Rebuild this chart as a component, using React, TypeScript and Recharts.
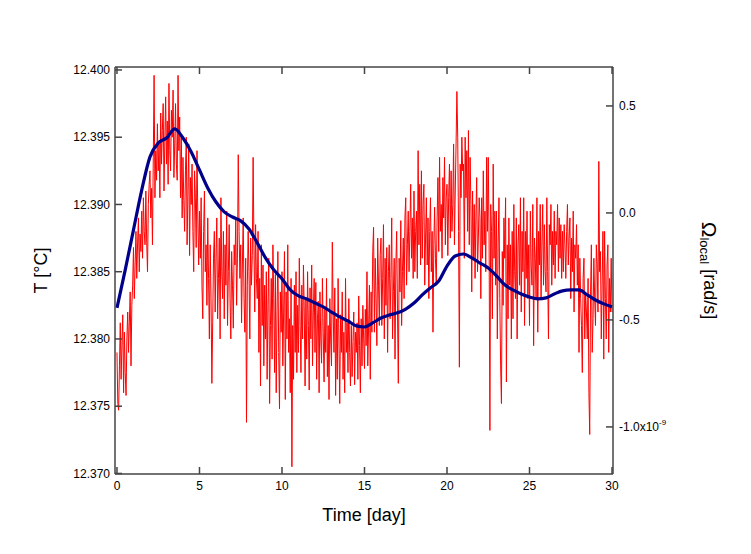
import React from "react";
import { LineChart, Line, XAxis, YAxis } from "recharts";

// red trace: temperature, sampled every 0.05 day from day 0 (one row = half a day)
const RED_STEP = 0.05;
const tempValues = [
  12.3790, 12.3752, 12.3747, 12.3780, 12.3812, 12.3770, 12.3795, 12.3818, 12.3760, 12.3805,
  12.3775, 12.3758, 12.3800, 12.3820, 12.3790, 12.3812, 12.3835, 12.3780, 12.3825, 12.3840,
  12.3868, 12.3830, 12.3855, 12.3880, 12.3845, 12.3872, 12.3890, 12.3850, 12.3878, 12.3865,
  12.3895, 12.3860, 12.3905, 12.3880, 12.3870, 12.3910, 12.3872, 12.3850, 12.3900, 12.3915,
  12.3925, 12.3890, 12.3912, 12.3870, 12.3935, 12.3996, 12.3905, 12.3940, 12.3918, 12.3960,
  12.3925, 12.3945, 12.3905, 12.3968, 12.3930, 12.3955, 12.3975, 12.3910, 12.3948, 12.3980,
  12.3930, 12.3962, 12.3915, 12.3990, 12.3940, 12.3925, 12.3970, 12.3950, 12.3985, 12.3920,
  12.3945, 12.3975, 12.3930, 12.3918, 12.3996, 12.3940, 12.3965, 12.3905, 12.3950, 12.3890,
  12.3935, 12.3903, 12.3880, 12.3925, 12.3950, 12.3870, 12.3910, 12.3945, 12.3862, 12.3920,
  12.3900, 12.3930, 12.3880, 12.3850, 12.3925, 12.3905, 12.3868, 12.3940, 12.3890, 12.3855,
  12.3895, 12.3860, 12.3905, 12.3840, 12.3815, 12.3880, 12.3910, 12.3850, 12.3870, 12.3825,
  12.3890, 12.3845, 12.3800, 12.3870, 12.3830, 12.3767, 12.3812, 12.3860, 12.3880, 12.3820,
  12.3860, 12.3890, 12.3815, 12.3845, 12.3875, 12.3800, 12.3905, 12.3850, 12.3830, 12.3880,
  12.3815, 12.3870, 12.3840, 12.3895, 12.3810, 12.3850, 12.3885, 12.3830, 12.3800, 12.3865,
  12.3840, 12.3808, 12.3870, 12.3855, 12.3890, 12.3825, 12.3860, 12.3937, 12.3880, 12.3845,
  12.3870, 12.3812, 12.3855, 12.3890, 12.3830, 12.3805, 12.3860, 12.3738, 12.3840, 12.3880,
  12.3850, 12.3800, 12.3875, 12.3840, 12.3862, 12.3935, 12.3870, 12.3820, 12.3885, 12.3845,
  12.3830, 12.3880, 12.3790, 12.3845, 12.3765, 12.3870, 12.3810, 12.3855, 12.3780, 12.3840,
  12.3800, 12.3850, 12.3770, 12.3825, 12.3860, 12.3752, 12.3810, 12.3845, 12.3785, 12.3870,
  12.3830, 12.3775, 12.3848, 12.3760, 12.3820, 12.3865, 12.3790, 12.3748, 12.3835, 12.3805,
  12.3850, 12.3780, 12.3820, 12.3865, 12.3755, 12.3835, 12.3800, 12.3870, 12.3790, 12.3815,
  12.3760, 12.3845, 12.3705, 12.3810, 12.3770, 12.3840, 12.3790, 12.3850, 12.3775, 12.3825,
  12.3790, 12.3860, 12.3810, 12.3775, 12.3840, 12.3800, 12.3855, 12.3820, 12.3765, 12.3830,
  12.3785, 12.3850, 12.3810, 12.3762, 12.3838, 12.3800, 12.3855, 12.3780, 12.3820, 12.3845,
  12.3790, 12.3842, 12.3770, 12.3815, 12.3828, 12.3760, 12.3835, 12.3800, 12.3782, 12.3845,
  12.3805, 12.3768, 12.3822, 12.3790, 12.3845, 12.3772, 12.3810, 12.3755, 12.3830, 12.3800,
  12.3780, 12.3872, 12.3820, 12.3790, 12.3838, 12.3758, 12.3815, 12.3770, 12.3845, 12.3800,
  12.3752, 12.3818, 12.3790, 12.3835, 12.3770, 12.3805, 12.3760, 12.3845, 12.3790, 12.3812,
  12.3775, 12.3830, 12.3790, 12.3765, 12.3810, 12.3772, 12.3798, 12.3820, 12.3766, 12.3805,
  12.3790, 12.3812, 12.3770, 12.3832, 12.3795, 12.3760, 12.3815, 12.3780, 12.3825, 12.3800,
  12.3778, 12.3822, 12.3795, 12.3850, 12.3780, 12.3810, 12.3840, 12.3770, 12.3835, 12.3805,
  12.3865, 12.3883, 12.3805, 12.3860, 12.3830, 12.3795, 12.3875, 12.3840, 12.3810, 12.3862,
  12.3875, 12.3810, 12.3845, 12.3885, 12.3800, 12.3860, 12.3825, 12.3868, 12.3790, 12.3850,
  12.3870, 12.3815, 12.3845, 12.3890, 12.3800, 12.3835, 12.3860, 12.3785, 12.3855, 12.3880,
  12.3820, 12.3767, 12.3860, 12.3835, 12.3888, 12.3810, 12.3850, 12.3875, 12.3830, 12.3890,
  12.3905, 12.3840, 12.3870, 12.3895, 12.3850, 12.3880, 12.3915, 12.3860, 12.3890, 12.3845,
  12.3910, 12.3850, 12.3880, 12.3895, 12.3845, 12.3940, 12.3870, 12.3915, 12.3855, 12.3925,
  12.3860, 12.3900, 12.3915, 12.3840, 12.3875, 12.3905, 12.3855, 12.3890, 12.3830, 12.3880,
  12.3905, 12.3850, 12.3880, 12.3805, 12.3870, 12.3898, 12.3860, 12.3840, 12.3890, 12.3920,
  12.3865, 12.3935, 12.3880, 12.3900, 12.3860, 12.3920, 12.3890, 12.3935, 12.3870, 12.3905,
  12.3915, 12.3862, 12.3905, 12.3930, 12.3875, 12.3925, 12.3880, 12.3900, 12.3945, 12.3870,
  12.3910, 12.3945, 12.3984, 12.3950, 12.3880, 12.3779, 12.3930, 12.3905, 12.3950, 12.3925,
  12.3930, 12.3860, 12.3950, 12.3905, 12.3940, 12.3880, 12.3955, 12.3870, 12.3935, 12.3900,
  12.3835, 12.3910, 12.3860, 12.3900, 12.3845, 12.3890, 12.3920, 12.3850, 12.3875, 12.3905,
  12.3890, 12.3830, 12.3905, 12.3860, 12.3925, 12.3870, 12.3895, 12.3850, 12.3935, 12.3880,
  12.3935, 12.3875, 12.3732, 12.3900, 12.3880, 12.3815, 12.3930, 12.3860, 12.3895, 12.3840,
  12.3895, 12.3800, 12.3870, 12.3905, 12.3830, 12.3780, 12.3752, 12.3865, 12.3825, 12.3890,
  12.3860, 12.3905, 12.3768, 12.3870, 12.3815, 12.3890, 12.3840, 12.3870, 12.3800, 12.3880,
  12.3815, 12.3900, 12.3850, 12.3830, 12.3890, 12.3800, 12.3870, 12.3885, 12.3840, 12.3905,
  12.3820, 12.3880, 12.3850, 12.3905, 12.3810, 12.3880, 12.3845, 12.3895, 12.3830, 12.3870,
  12.3810, 12.3895, 12.3855, 12.3840, 12.3900, 12.3795, 12.3875, 12.3860, 12.3830, 12.3905,
  12.3805, 12.3880, 12.3855, 12.3900, 12.3830, 12.3870, 12.3900, 12.3840, 12.3885, 12.3850,
  12.3835, 12.3905, 12.3850, 12.3800, 12.3885, 12.3870, 12.3900, 12.3840, 12.3880, 12.3855,
  12.3895, 12.3845, 12.3880, 12.3870, 12.3900, 12.3850, 12.3890, 12.3860, 12.3885, 12.3845,
  12.3880, 12.3850, 12.3885, 12.3870, 12.3845, 12.3880, 12.3900, 12.3855, 12.3875, 12.3890,
  12.3830, 12.3875, 12.3850, 12.3895, 12.3820, 12.3870, 12.3860, 12.3885, 12.3840, 12.3870,
  12.3790, 12.3860, 12.3830, 12.3810, 12.3775, 12.3845, 12.3860, 12.3800, 12.3835, 12.3820,
  12.3800, 12.3845, 12.3760, 12.3729, 12.3835, 12.3870, 12.3790, 12.3815, 12.3860, 12.3830,
  12.3810, 12.3870, 12.3855, 12.3820, 12.3932, 12.3850, 12.3865, 12.3800, 12.3840, 12.3880,
  12.3785, 12.3880, 12.3830, 12.3800, 12.3855, 12.3870, 12.3790, 12.3845, 12.3820, 12.3860,
  12.3820,
];

// blue trace: Omega local (x1e-9 rad/s), every 0.5 day
const BLUE_STEP = 0.5;
const omegaValues = [
  -0.444, -0.266, -0.079, 0.107, 0.262, 0.327, 0.35, 0.393, 0.35, 0.285,
  0.201, 0.117, 0.051, 0.005, -0.019, -0.037, -0.075, -0.14, -0.21, -0.266,
  -0.308, -0.36, -0.388, -0.402, -0.421, -0.439, -0.463, -0.486, -0.505, -0.528,
  -0.533, -0.514, -0.491, -0.477, -0.467, -0.449, -0.421, -0.383, -0.35, -0.318,
  -0.248, -0.201, -0.192, -0.21, -0.234, -0.257, -0.294, -0.336, -0.36, -0.379,
  -0.393, -0.402, -0.397, -0.379, -0.364, -0.36, -0.36, -0.383, -0.407, -0.425,
  -0.439,
];

const dayTicks = [0, 5, 10, 15, 20, 25, 30];
const tempTicks = [12.37, 12.375, 12.38, 12.385, 12.39, 12.395, 12.4];
const omegaTicks = [-1.0, -0.5, 0.0, 0.5];

const redData = tempValues.map((t, i) => ({ day: i * RED_STEP, temp: t }));
const blueData = omegaValues.map((w, i) => ({ day: i * BLUE_STEP, omega: w }));

const FONT = "'Liberation Sans', Arial, sans-serif";
const AXIS = "#444";

const LeftLabel = (props: any) => {
  const { x, y, height } = props.viewBox;
  const cx = x + 41;
  const cy = y + height / 2;
  return (
    <text x={cx} y={cy} transform={`rotate(-90 ${cx} ${cy})`} textAnchor="middle"
      dominantBaseline="central" fontSize={18} fill="#000" fontFamily={FONT}>
      T [°C]
    </text>
  );
};

const RightLabel = (props: any) => {
  const { x, y, height } = props.viewBox;
  const cx = x + 97;
  const cy = y + height / 2;
  return (
    <text x={cx} y={cy} transform={`rotate(90 ${cx} ${cy})`} textAnchor="middle"
      dominantBaseline="central" fontSize={18} fill="#000" fontFamily={FONT}>
      <tspan fontSize={21}>Ω</tspan>
      <tspan fontSize={13} dy={5}>local</tspan>
      <tspan dy={-5}> [rad/s]</tspan>
    </text>
  );
};

const BottomLabel = (props: any) => {
  const { x, y, width } = props.viewBox;
  return (
    <text x={x + width / 2} y={y + 41} textAnchor="middle" dominantBaseline="central"
      fontSize={18} fill="#000" fontFamily={FONT}>
      Time [day]
    </text>
  );
};

const RightTick = (props: any) => {
  const { x, y, payload } = props;
  const v = payload.value as number;
  return (
    <text x={x} y={y} dy={4} textAnchor="start" fontSize={12} fill="#000" fontFamily={FONT}>
      {v.toFixed(1)}
      {v === -1 ? (
        <>
          x10<tspan dy={-6} fontSize={8}>-9</tspan>
        </>
      ) : null}
    </text>
  );
};

export default function App() {
  return (
    <div style={{ position: "absolute", left: 0, top: 0, width: 751, height: 554, background: "#fff" }}>
      <LineChart width={751} height={554} margin={{ top: 0, right: 0, bottom: 0, left: 0 }}
        style={{ fontFamily: FONT }}>
        <XAxis xAxisId="bottom" dataKey="day" type="number" domain={[-0.12, 30.06]} ticks={dayTicks}
          allowDataOverflow height={80} tickSize={-7} tickMargin={14}
          stroke={AXIS} strokeWidth={1.5} tick={{ fill: "#000", fontSize: 12 }}
          label={<BottomLabel />} />
        <XAxis xAxisId="top" orientation="top" dataKey="day" type="number" domain={[-0.12, 30.06]}
          ticks={dayTicks} allowDataOverflow height={67} tickSize={-7}
          tickFormatter={() => ""} stroke={AXIS} strokeWidth={1.5} />
        <YAxis yAxisId="left" type="number" domain={[12.36996, 12.40022]} ticks={tempTicks}
          allowDataOverflow width={115} tickSize={-7} tickMargin={12}
          tickFormatter={(v: number) => v.toFixed(3)}
          stroke={AXIS} strokeWidth={1.5} tick={{ fill: "#000", fontSize: 12 }}
          label={<LeftLabel />} />
        <YAxis yAxisId="right" orientation="right" type="number" domain={[-1.22, 0.682]}
          ticks={omegaTicks} allowDataOverflow width={138} tickSize={-7} tickMargin={13}
          stroke={AXIS} strokeWidth={1.5} tick={<RightTick />}
          label={<RightLabel />} />
        <Line data={redData} xAxisId="bottom" yAxisId="left" dataKey="temp" type="linear"
          stroke="#ff0000" strokeWidth={1} dot={false} isAnimationActive={false} />
        <Line data={blueData} xAxisId="bottom" yAxisId="right" dataKey="omega" type="monotone"
          stroke="#00008b" strokeWidth={3.2} dot={false} isAnimationActive={false} />
      </LineChart>
    </div>
  );
}
